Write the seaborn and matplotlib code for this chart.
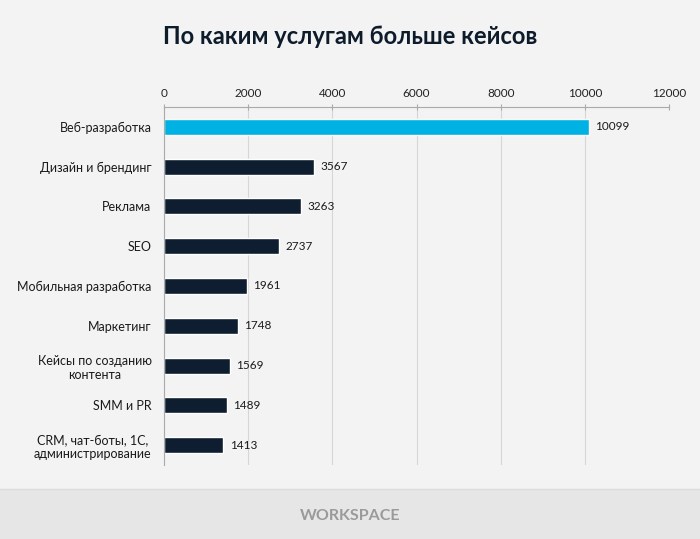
import numpy as np
import pandas as pd
import matplotlib
matplotlib.use('Agg')
import matplotlib.pyplot as plt
import seaborn as sns
from matplotlib.ticker import FixedLocator
from matplotlib.patches import Rectangle

# data
services = ['Веб-разработка', 'Дизайн и брендинг', 'Реклама', 'SEO',
            'Мобильная разработка', 'Маркетинг', 'Кейсы по созданию\nконтента',
            'SMM и PR', 'CRM, чат-боты, 1С,\nадминистрирование']
cases = [10099, 3567, 3263, 2737, 1961, 1748, 1569, 1489, 1413]
xticks = [0, 2000, 4000, 6000, 8000, 10000, 12000]

df = pd.DataFrame({'service': services, 'cases': cases})
df['top'] = ['yes'] + ['no'] * (len(df) - 1)

sns.set_style('white')
plt.rcParams['font.family'] = ['Lato', 'DejaVu Sans']

bg = '#f3f3f3'
fig = plt.figure(figsize=(7, 5.39), dpi=100, facecolor=bg)
ax = fig.add_axes([0.2343, 0.1373, 0.7214, 0.6642])
ax.set_facecolor(bg)

sns.barplot(data=df, x='cases', y='service', hue='top',
            palette={'yes': '#00b2e3', 'no': '#0e1e30'},
            width=0.4, legend=False, ax=ax, saturation=1)

ax.set_xlim(0, 12000)
ax.set_ylim(len(df) - 0.5, -0.5)
ax.xaxis.tick_top()
ax.set_xticks(xticks)
ax.set_xticklabels([str(t) for t in xticks], fontsize=8.5, color='#222222')
ax.tick_params(axis='x', which='major', direction='inout', length=5,
               color='#aaaaaa', width=0.8, pad=3)
ax.tick_params(axis='y', which='major', length=0, pad=9,
               labelsize=9, labelcolor='#1a1a1a')
ax.yaxis.set_minor_locator(FixedLocator(np.arange(-0.5, len(df), 1)))
ax.tick_params(axis='y', which='minor', direction='out', length=4,
               color='#aaaaaa', width=0.8)
ax.grid(axis='x', color='#d6d6d6', linewidth=0.8)
ax.set_axisbelow(True)
ax.set_xlabel('')
ax.set_ylabel('')
for s in ['right', 'bottom']:
    ax.spines[s].set_visible(False)
for s in ['top', 'left']:
    ax.spines[s].set_color('#aaaaaa')
    ax.spines[s].set_linewidth(0.8)

for lbl in ax.get_yticklabels():
    lbl.set_horizontalalignment('right')
    lbl.set_multialignment('center')

for i, v in enumerate(cases):
    ax.text(v + 150, i, str(v), va='center', ha='left', fontsize=8.5,
            color='#1a1a1a')

fig.text(0.5, 0.932, 'По каким услугам больше кейсов', ha='center', va='center',
         fontsize=17, fontweight='bold', color='#0d1b2a')

# footer band
fig.patches.append(Rectangle((0, 0), 1, 0.0928, transform=fig.transFigure,
                             facecolor='#e6e6e6', edgecolor='none', zorder=0))
fig.lines.append(plt.Line2D([0, 1], [0.0928, 0.0928], transform=fig.transFigure,
                            color='#dcdcdc', linewidth=1))
fig.text(0.5, 0.043, 'WORKSPACE', ha='center', va='center', fontsize=11.5,
         fontweight='bold', color='#9a9a9a')

fig.savefig('out.png', dpi=100, facecolor=bg)
